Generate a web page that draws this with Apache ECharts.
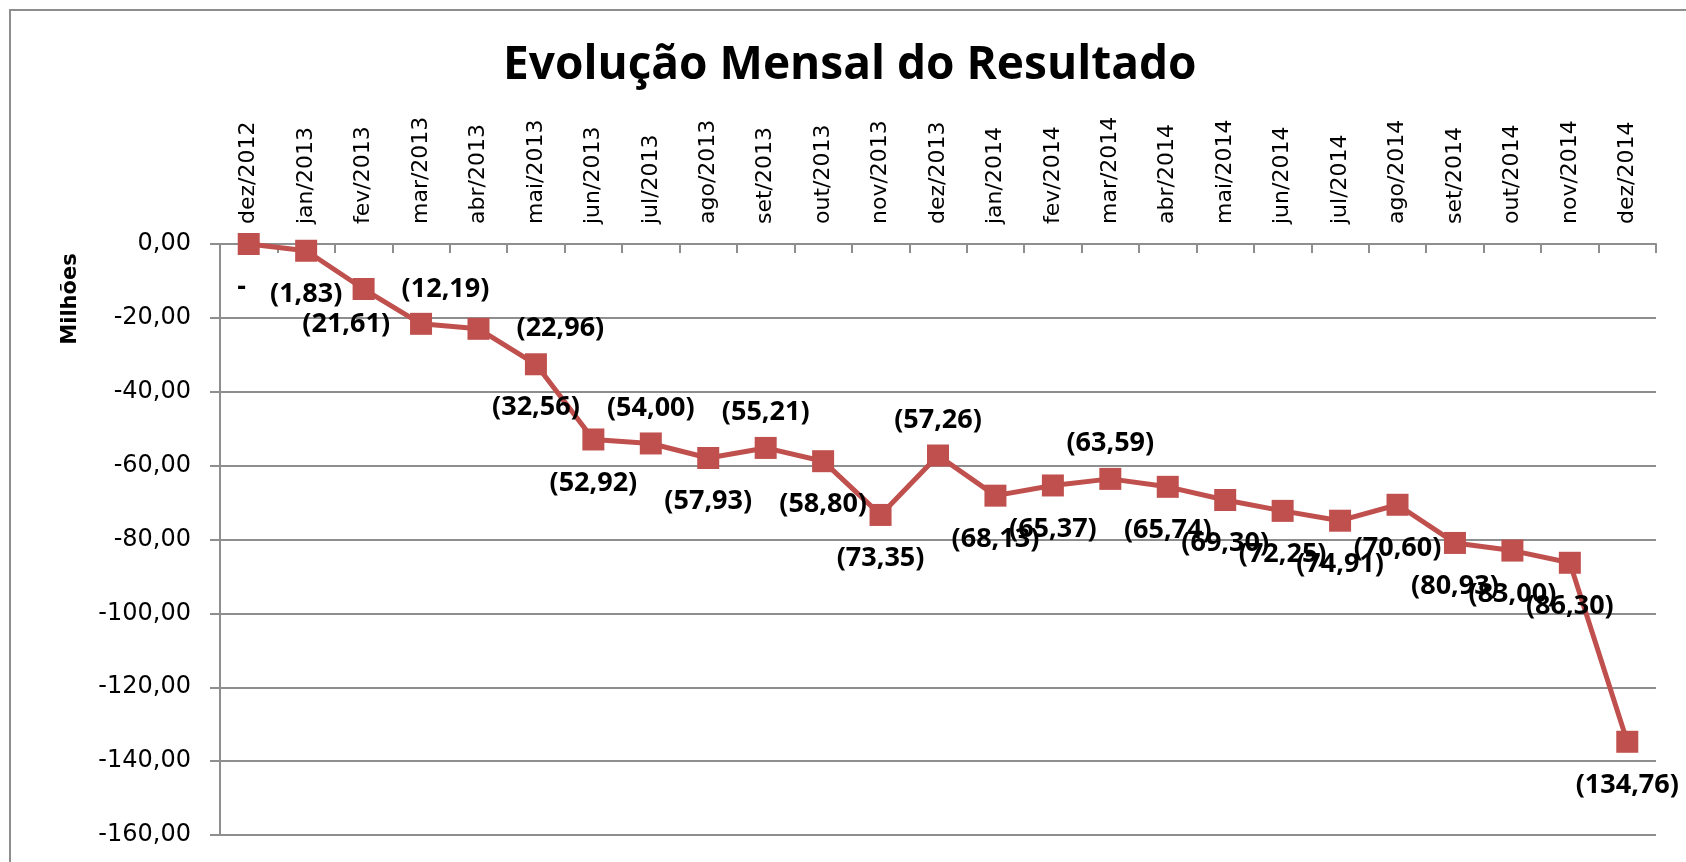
<!DOCTYPE html>
<html>
<head>
<meta charset="utf-8">
<script src="https://cdn.jsdelivr.net/npm/echarts@6/dist/echarts.min.js"></script>
<style>
  html, body { margin: 0; padding: 0; background: #ffffff; }
  #chart { width: 1686px; height: 862px; }
</style>
</head>
<body>
<div id="chart"></div>
<script>
// ---- data ----
var categories = ['dez/2012','jan/2013','fev/2013','mar/2013','abr/2013','mai/2013','jun/2013','jul/2013','ago/2013','set/2013','out/2013','nov/2013','dez/2013','jan/2014','fev/2014','mar/2014','abr/2014','mai/2014','jun/2014','jul/2014','ago/2014','set/2014','out/2014','nov/2014','dez/2014'];
var resultado = [0, -1.83, -12.19, -21.61, -22.96, -32.56, -52.92, -54.00, -57.93, -55.21, -58.80, -73.35, -57.26, -68.13, -65.37, -63.59, -65.74, -69.30, -72.25, -74.91, -70.60, -80.93, -83.00, -86.30, -134.76];
var yTicks = [0, -20, -40, -60, -80, -100, -120, -140, -160];
var titleText = 'Evolução Mensal do Resultado';
var yName = 'Milhões';
// label placement for each point (as in the reference)
var labelPlace = ['bottom','bottom','right','left','right','bottom','bottom','top','bottom','top','bottom','bottom','top','bottom','bottom','top','bottom','bottom','bottom','bottom','bottom','bottom','bottom','bottom','bottom'];

// ---- styles ----
var GRAY = '#8e8e8e';
var RED = '#C0504D';
var placeDist = { bottom: 19, top: 11, right: 27, left: 20 };

function fmtLabel(v) {
  if (v === 0) return '-  ';
  return '(' + Math.abs(v).toFixed(2).replace('.', ',') + ')';
}
function fmtTick(v) {
  return Number(v).toFixed(2).replace('.', ',');
}

var seriesData = resultado.map(function (v, i) {
  return {
    value: v,
    label: { position: labelPlace[i], distance: placeDist[labelPlace[i]] }
  };
});

var chart = echarts.init(document.getElementById('chart'), null, { renderer: 'canvas' });
chart.setOption({
  animation: false,
  backgroundColor: '#ffffff',
  title: {
    text: titleText,
    left: 503,
    top: 43,
    padding: 0,
    textStyle: { fontFamily: 'Open Sans', fontSize: 46, fontWeight: 'bold', color: '#000000' }
  },
  graphic: [
    {
      type: 'rect',
      shape: { x: 10, y: 10, width: 1700, height: 900 },
      style: { fill: 'none', stroke: GRAY, lineWidth: 2 },
      silent: true,
      z: -1
    },
    {
      type: 'text',
      x: 71,
      y: 299,
      rotation: Math.PI / 2,
      style: {
        text: yName,
        font: 'bold 21px "DejaVu Sans"',
        fill: '#000000',
        align: 'center',
        verticalAlign: 'middle'
      }
    }
  ],
  grid: { left: 220, right: 30, top: 244, bottom: 27, containLabel: false },
  xAxis: {
    type: 'category',
    data: categories,
    position: 'top',
    boundaryGap: true,
    axisLine: { show: true, onZero: false, lineStyle: { color: GRAY, width: 2 } },
    axisTick: { show: true, inside: true, length: 9, lineStyle: { color: GRAY, width: 2 } },
    axisLabel: {
      rotate: -90,
      margin: 20,
      interval: 0,
      fontFamily: 'DejaVu Sans',
      fontSize: 22,
      color: '#000000'
    },
    splitLine: { show: false }
  },
  yAxis: {
    type: 'value',
    min: yTicks[yTicks.length - 1],
    max: yTicks[0],
    interval: 20,
    axisLine: { show: true, lineStyle: { color: GRAY, width: 2 } },
    axisTick: { show: true, inside: false, length: 10, lineStyle: { color: GRAY, width: 2 } },
    axisLabel: {
      margin: 29,
      fontFamily: 'DejaVu Sans',
      fontSize: 24,
      color: '#000000',
      formatter: fmtTick
    },
    splitLine: { show: true, lineStyle: { color: GRAY, width: 2 } }
  },
  series: [{
    type: 'line',
    data: seriesData,
    symbol: 'rect',
    symbolSize: 22,
    showAllSymbol: true,
    lineStyle: { color: RED, width: 5 },
    itemStyle: { color: RED },
    label: {
      show: true,
      fontFamily: 'Open Sans',
      fontWeight: 'bold',
      fontSize: 27,
      color: '#000000',
      formatter: function (p) { return fmtLabel(p.value); }
    },
    labelLayout: { hideOverlap: false },
    z: 3
  }]
});
</script>
</body>
</html>
